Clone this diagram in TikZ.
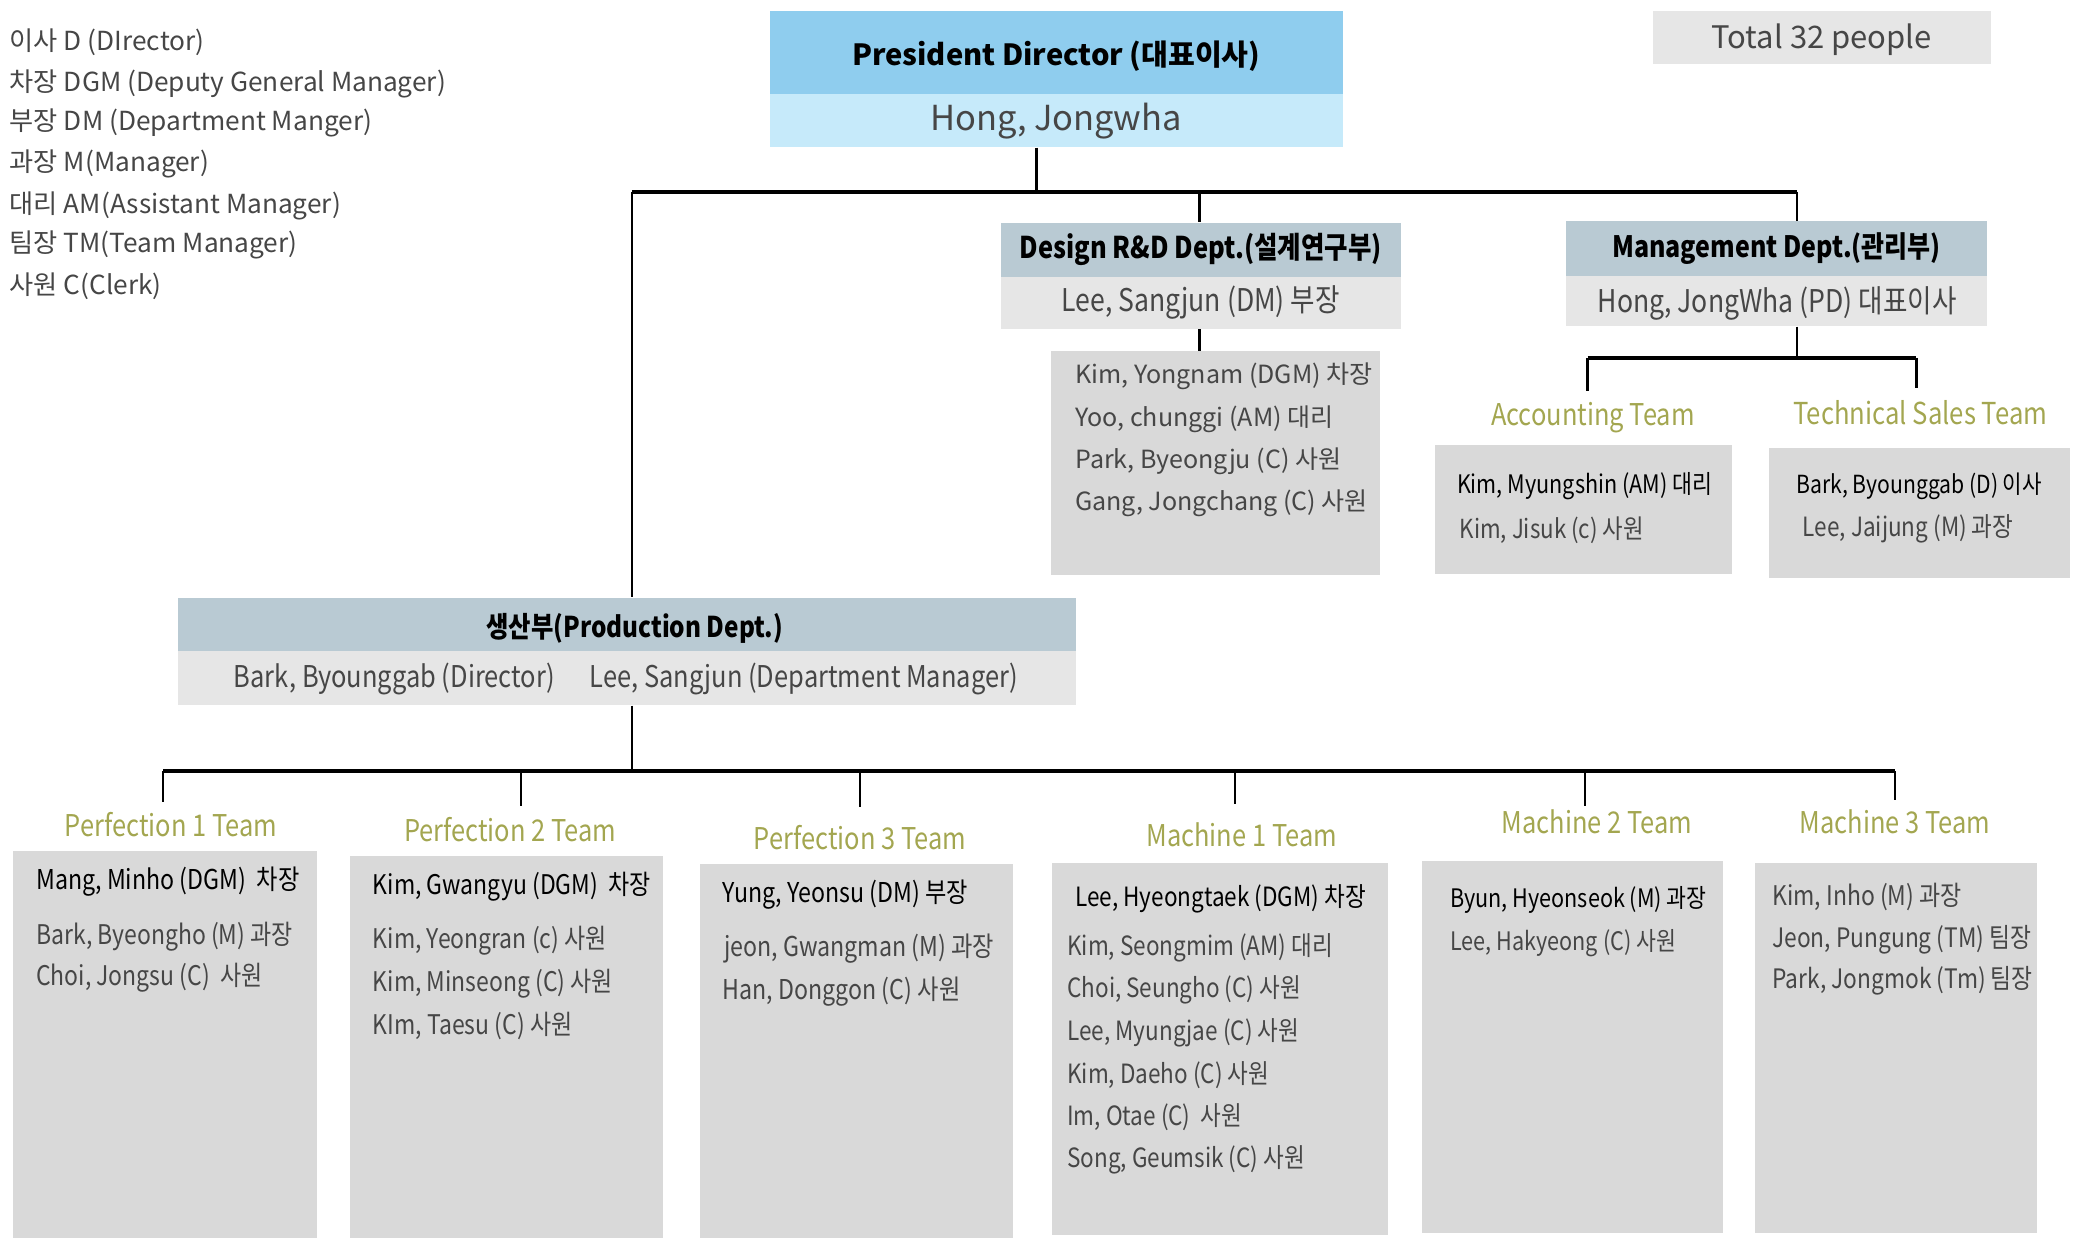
\documentclass[tikz,border=0pt]{standalone}
\usepackage{fontspec}
\usepackage{graphicx}
\setmainfont{Noto Sans CJK KR}
\newfontfamily\condfont{Noto Sans CJK KR}[FakeStretch=0.85]
\usetikzlibrary{fit}
\definecolor{presTop}{RGB}{143,205,238}
\definecolor{presBot}{RGB}{198,234,250}
\definecolor{deptTop}{RGB}{185,202,211}
\definecolor{lightBox}{RGB}{230,230,230}
\definecolor{memBox}{RGB}{217,217,217}
\definecolor{teamCol}{RGB}{163,166,80}
\definecolor{txtGray}{RGB}{70,70,70}
\newcommand{\fs}[1]{\fontsize{#1}{#1}\selectfont}
\tikzset{
  box/.style={fill=#1, draw=none, inner sep=0pt},
  legendtxt/.style={font=\fs{9.9}, text=txtGray, anchor=west, inner sep=0pt, yshift=-1pt},
  headtxt/.style={font=\condfont\fs{11.3}\bfseries, text=black, inner sep=0pt},
  subtxt/.style={font=\condfont\fs{11.8}, text=txtGray, inner sep=0pt},
  memtxt/.style={font=\condfont\fs{10}, text=txtGray, anchor=west, inner sep=0pt, yshift=-1pt},
  leadtxt/.style={font=\condfont\fs{10}, text=black, anchor=west, inner sep=0pt, yshift=-1pt},
  desmem/.style={font=\fs{9.45}, text=txtGray, anchor=west, inner sep=0pt, yshift=-1pt},
  teamtxt/.style={font=\condfont\fs{11.3}, text=teamCol, inner sep=0pt},
  link/.style={line width=1pt, black},
  bus/.style={line width=1.5pt, black},
}
\begin{document}
\begin{tikzpicture}[x=0.5pt, y=-0.5pt]
\useasboundingbox (0,0) rectangle (1568,934);

% legend
\node[legendtxt] (lg1) at (7,30) {이사 D (DIrector)};
\node[legendtxt] (lg2) at (7,61) {차장 DGM (Deputy General Manager)};
\node[legendtxt] (lg3) at (7,91) {부장 DM (Department Manger)};
\node[legendtxt] (lg4) at (7,122) {과장 M(Manager)};
\node[legendtxt] (lg5) at (7,153) {대리 AM(Assistant Manager)};
\node[legendtxt] (lg6) at (7,183) {팀장 TM(Team Manager)};
\node[legendtxt] (lg7) at (7,214) {사원 C(Clerk)};

% total
\node[box=lightBox, fit={(1247,8)(1502,48)}] (total) {};
\node[font=\fs{11.7}, text=txtGray, inner sep=0pt, yshift=-1pt] at (total.center) {Total 32 people};

% president
\node[box=presTop, fit={(581,8)(1013,71)}] (presT) {};
\node[box=presBot, fit={(581,71)(1013,111)}] (presB) {};
\node[font=\fs{11}\bfseries, text=black, inner sep=0pt, yshift=-1.5pt] at (presT.center) {President Director (대표이사)};
\node[font=\fs{13}, text=txtGray, inner sep=0pt] at (presB.center) {Hong, Jongwha};

% design
\node[box=deptTop, fit={(755,168)(1057,209)}] (desT) {};
\node[box=lightBox, fit={(755,209)(1057,248)}] (desB) {};
\node[headtxt] at (desT.center) {Design R\&D Dept.(설계연구부)};
\node[subtxt] at (desB.center) {Lee, Sangjun (DM) 부장};
\node[box=memBox, fit={(793,265)(1041,434)}] (desM) {};
\node[desmem] at (811,282) {Kim, Yongnam (DGM) 차장};
\node[desmem] at (811,314) {Yoo, chunggi (AM) 대리};
\node[desmem] at (811,346) {Park, Byeongju (C) 사원};
\node[desmem] at (811,378) {Gang, Jongchang (C) 사원};

% management
\node[box=deptTop, fit={(1182,167)(1499,208)}] (mgT) {};
\node[box=lightBox, fit={(1182,208)(1499,246)}] (mgB) {};
\node[headtxt, font=\condfont\fs{11.1}\bfseries] at (mgT.center) {Management Dept.(관리부)};
\node[subtxt] at (1341,229) {Hong, JongWha (PD) 대표이사};

% accounting / technical
\node[teamtxt] (accL) at (1202,315) {Accounting Team};
\node[teamtxt, font=\condfont\fs{11.4}] (tecL) at (1449,311) {Technical Sales Team};
\node[box=memBox, fit={(1083,336)(1307,433)}] (accM) {};
\node[leadtxt, font=\condfont\fs{9.6}] at (1099,365) {Kim, Myungshin (AM) 대리};
\node[memtxt, font=\condfont\fs{9.9}] at (1101,398) {Kim, Jisuk (c) 사원};
\node[box=memBox, fit={(1335,338)(1562,436)}] (tecM) {};
\node[leadtxt, font=\condfont\fs{9.4}] at (1355,365) {Bark, Byounggab (D) 이사};
\node[memtxt] at (1360,397) {Lee, Jaijung (M) 과장};

% production
\node[box=deptTop, fit={(134,451)(812,491)}] (prT) {};
\node[box=lightBox, fit={(134,491)(812,532)}] (prB) {};
\node[headtxt, font=\condfont\fs{10.8}\bfseries] at (479,474) {생산부(Production Dept.)};
\node[subtxt, font=\condfont\fs{11.3}] (prN1) at (297.5,512) {Bark, Byounggab (Director)};
\node[subtxt, font=\condfont\fs{11.3}] (prN2) at (606.5,512) {Lee, Sangjun (Department Manager)};

% team labels
\node[teamtxt] (t1) at (129,622) {Perfection 1 Team};
\node[teamtxt] (t2) at (385,626) {Perfection 2 Team};
\node[teamtxt] (t3) at (649,632) {Perfection 3 Team};
\node[teamtxt] (t4) at (937,630) {Machine 1 Team};
\node[teamtxt] (t5) at (1205,620) {Machine 2 Team};
\node[teamtxt] (t6) at (1430,620) {Machine 3 Team};

% team boxes
\node[box=memBox, fit={(10,642)(239,934)}] (m1) {};
\node[leadtxt, font=\condfont\fs{10.3}] at (27,663) {Mang, Minho (DGM)\ \ 차장};
\node[memtxt, font=\condfont\fs{10.2}] at (27,705) {Bark, Byeongho (M) 과장};
\node[memtxt, font=\condfont\fs{10.2}] at (27,736) {Choi, Jongsu (C)\ \ 사원};

\node[box=memBox, fit={(264,646)(500,934)}] (m2) {};
\node[leadtxt, font=\condfont\fs{10.2}] at (281,667) {Kim, Gwangyu (DGM)\ \ 차장};
\node[memtxt, font=\condfont\fs{10.2}] at (281,708) {Kim, Yeongran (c) 사원};
\node[memtxt, font=\condfont\fs{10.2}] at (281,740) {Kim, Minseong (C) 사원};
\node[memtxt, font=\condfont\fs{10.2}] at (281,772) {KIm, Taesu (C) 사원};

\node[box=memBox, fit={(528,652)(764,934)}] (m3) {};
\node[leadtxt, font=\condfont\fs{10.3}] at (545,673) {Yung, Yeonsu (DM) 부장};
\node[memtxt, font=\condfont\fs{10.3}] at (546,714) {jeon, Gwangman (M) 과장};
\node[memtxt, font=\condfont\fs{10.3}] at (545,746) {Han, Donggon (C) 사원};

\node[box=memBox, fit={(794,651)(1047,932)}] (m4) {};
\node[leadtxt] at (811,676) {Lee, Hyeongtaek (DGM) 차장};
\node[memtxt] at (805,713) {Kim, Seongmim (AM) 대리};
\node[memtxt] at (805,745) {Choi, Seungho (C) 사원};
\node[memtxt] at (805,777) {Lee, Myungjae (C) 사원};
\node[memtxt] at (805,809) {Kim, Daeho (C) 사원};
\node[memtxt] at (805,841) {Im, Otae (C)\ \ 사원};
\node[memtxt] at (805,873) {Song, Geumsik (C) 사원};

\node[box=memBox, fit={(1073,650)(1300,930)}] (m5) {};
\node[leadtxt, font=\condfont\fs{9.6}] at (1094,677) {Byun, Hyeonseok (M) 과장};
\node[memtxt, font=\condfont\fs{9.6}] at (1094,710) {Lee, Hakyeong (C) 사원};

\node[box=memBox, fit={(1324,651)(1537,930)}] (m6) {};
\node[memtxt, font=\condfont\fs{10.2}] at (1337,675) {Kim, Inho (M) 과장};
\node[memtxt, font=\condfont\fs{10.1}] at (1337,707) {Jeon, Pungung (TM) 팀장};
\node[memtxt, font=\condfont\fs{10.1}] at (1337,738) {Park, Jongmok (Tm) 팀장};

% connectors
\coordinate (tj) at (782,145);
\coordinate (tL) at (477,145);
\coordinate (tD) at (905,145);
\coordinate (tR) at (1356,145);
\draw[link] (presB.south -| tj) -- (tj);
\draw[bus] (tL) -- (tR);
\draw[link] (tL) -- (prT.north -| tL);
\draw[link] (tD) -- (desT.north -| tD);
\draw[link] (tR) -- (mgT.north -| tR);
\draw[link] (desB.south -| tD) -- (desM.north -| tD);

\coordinate (mj) at (1356,270);
\coordinate (mL) at (1198,270);
\coordinate (mR) at (1446,270);
\draw[link] (mgB.south -| mj) -- (mj);
\draw[bus] (mL) -- (mR);
\draw[link] (mL) -- ++(0,25);
\draw[link] (mR) -- ++(0,23);

\coordinate (pj) at (477,582);
\coordinate (b1) at (123,582);
\coordinate (b2) at (393,582);
\coordinate (b3) at (649,582);
\coordinate (b4) at (932,582);
\coordinate (b5) at (1196,582);
\coordinate (b6) at (1430,582);
\draw[link] (prB.south -| pj) -- (pj);
\draw[bus] (b1) -- (b6);
\draw[link] (b1) -- ++(0,23);
\draw[link] (b2) -- ++(0,26);
\draw[link] (b3) -- ++(0,27);
\draw[link] (b4) -- ++(0,25);
\draw[link] (b5) -- ++(0,26);
\draw[link] (b6) -- ++(0,22);
\end{tikzpicture}
\end{document}
